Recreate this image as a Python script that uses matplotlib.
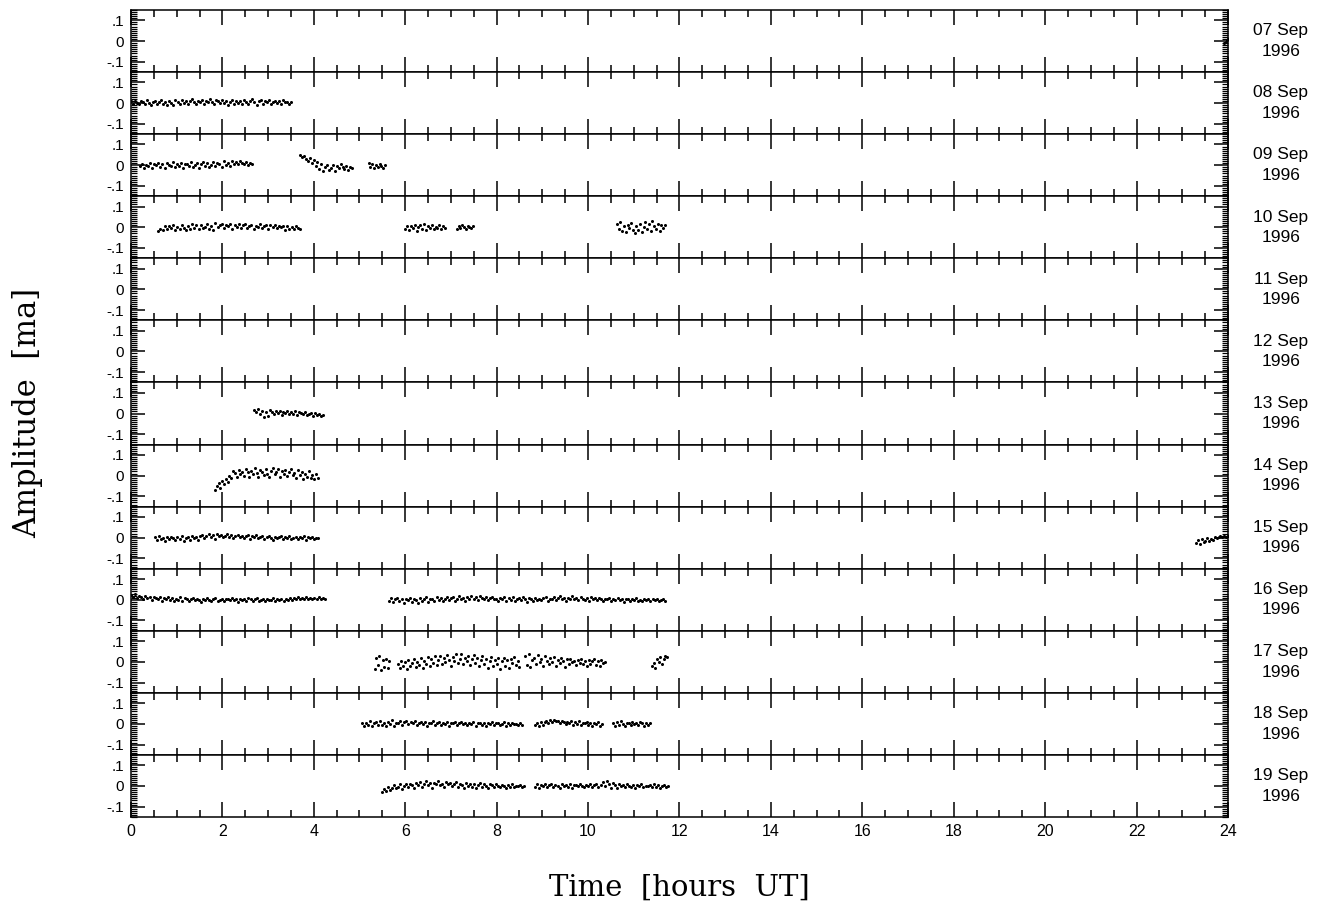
import numpy as np
import matplotlib
matplotlib.use('Agg')
import matplotlib.pyplot as plt
from matplotlib.ticker import MultipleLocator

# day labels, one panel per day
days = ['07 Sep', '08 Sep', '09 Sep', '10 Sep', '11 Sep', '12 Sep', '13 Sep',
        '14 Sep', '15 Sep', '16 Sep', '17 Sep', '18 Sep', '19 Sep']
year = '1996'

# observing segments per day: (start hour, end hour, amplitudes in 0.001 ma)
d07 = [(23.92, 24.0, [-10, -3, 5, 10])]
d08 = [(0.0, 3.5, [8, -4, 12, 2, -6, 10, 4, -2, 14, 0, -8, 6, 11, -5, 3, 15, -3, 7, -10, 9, 2, -7,
                   13, 5, -4, 16, 1, 9, -6, 12, 18, 4, -2, 10, 7, 15, -5, 11, 3, 20, 6, -3, 13, 8,
                   -1, 17, 2, 10, -8, 6, 14, -4, 9, 1, 12, -6, 15, 5, -2, 11, 18, 3, -9, 8, 13, -3,
                   10, 4, 16, -5, 7, 12, 0, 9, -4, 14, 3, 6, -2, 5])]
d09 = [(0.2, 2.65, [-5, 6, -12, 3, -2, 9, -15, 4, 0, 12, -8, 5, -14, 10, 2, -6, 14, -10, 7, -3, 11,
                    -16, 4, 8, -5, 15, -9, 3, 12, -12, 6, 16, -4, 9, -11, 2, 14, -6, 10, 5, -8, 18,
                    3, 12, -2, 20, 8, 15, 4, 22, 10, 6, 14, 2, 9, 5]),
       (3.7, 4.84, [48, 38, 42, 30, 22, 35, 12, 25, -5, 15, -20, 6, -28, -8, 3, -22, -12, 0, -30,
                    -6, -15, 4, -10, -18, -2, -25, -8, -14]),
       (5.2, 5.56, [12, -8, 6, -15, 3, -10, 8, -4, -12, 2])]
d10 = [(0.6, 3.7, [-18, -6, -12, 4, -10, 8, -4, 12, -15, 2, -8, 10, -3, -14, 6, -10, 14, -2, 9, -8,
                   12, -5, 3, 16, -6, 8, -12, 20, 2, 10, 15, -4, 11, 5, 18, -8, 12, 0, 14, -5, 9, 16,
                   -2, 6, 12, -10, 8, 3, 15, -4, 5, 11, -7, 9, 2, 13, -5, 6, -1, 4, -12, 8, -6, 2,
                   -9, 5, -3, -8]),
       (6.0, 6.87, [-10, 4, -15, 8, -5, 12, -18, 2, 10, -6, 14, -12, 5, -2, 11, -8, 3, -4, 9, -10,
                    6, -3]),
       (7.13, 7.48, [-6, 8, -3, 12, 0, -8, 6, 3, -5, 4]),
       (10.63, 11.68, [15, -8, 25, -18, 6, -25, 12, -4, 20, -15, -28, 8, -12, 18, -22, 3, 24, -10,
                       14, -18, 28, 5, -6, 16, -20, 10, -2, 12])]
d11 = []
d12 = []
d13 = [(2.69, 4.2, [18, 8, 22, -4, 14, -15, 5, -10, 16, 6, -3, 12, 2, 10, -6, 8, 3, 13, -2, 7, 0,
                    10, -6, 5, 2, -4, 8, -9, -1, 4, -12, 2, -6, -3, -10, -5])]
d14 = [(1.84, 4.09, [-70, -52, -38, -60, -28, -42, -15, -30, 0, -10, 22, 12, -6, 28, 10, 18, -2, 32,
                     15, -5, 24, 8, 35, 12, -8, 26, 18, 2, 30, 10, -5, 20, 36, 6, 15, 32, -8, 22,
                     10, 28, -4, 18, 34, 5, 12, -12, 25, 3, 16, -15, 8, -6, 20, -10, 2, -18, 6, -14])]
d15 = [(0.52, 4.1, [4, -10, 7, -5, 0, -14, 5, -8, 2, -3, -12, 3, -6, 8, -15, 0, 5, -9, 10, -4, 2,
                    -10, 7, 13, -2, 8, 16, 3, 11, -5, 18, 6, 14, 2, 10, 17, 4, 12, -3, 8, 15, 3, 10,
                    0, 7, 13, -5, 9, 2, 12, -2, 5, 10, -7, 3, 8, 0, -10, 5, -4, 2, 10, -8, 4, -2, 7,
                    -6, 0, 3, -7, 2, -4, 6, -9, 1, -3, 5, -6, 0, -2]),
       (23.3, 24.0, [-25, -12, -30, -8, -20, -15, 0, -18, -6, -10, 5, -4, 3, 8, 2, 6, 4, 7])]
d16 = [(0.0, 4.24, [25, 15, 30, 10, 20, 14, 5, 18, 8, 12, -3, 15, 7, 2, 11, -6, 9, 4, 13, -1, 10,
                    -5, 6, 1, 12, -4, 8, 3, -8, 5, 9, -2, 6, 0, -10, 4, -3, 8, 1, -6, 3, 9, -5, 0,
                    6, -8, 2, 5, -3, 7, -2, 3, -9, 6, 0, 4, -5, 9, 2, -7, 3, 8, -4, 0, 5, -8, 6, 1,
                    -2, 9, -5, 3, 0, 6, -6, 4, 1, 8, -3, 10, 2, 12, 5, 8, 4, 14, 6, 10, 3, 9, 5, 11,
                    2, 7, 4]),
       (5.65, 11.68, [-5, 8, -12, 3, 9, -8, 2, -15, 6, -3, 10, -9, 4, 0, -18, 7, -6, 3, 12, -10, 2,
                      6, -4, 13, -2, 9, -8, 3, 15, -3, 8, 12, -6, 5, 18, 2, 10, -4, 14, 6, 20, 3,
                      12, -2, 16, 8, 4, 15, -3, 9, 14, 2, 6, -8, 10, 3, 12, -5, 8, 0, 15, -6, 5, 9,
                      -2, 12, 3, -9, 8, 2, -5, 10, 0, 6, -3, 9, 14, -6, 5, 2, 12, -2, 8, 16, 3, 10,
                      -5, 9, 6, 18, 2, 8, -3, 12, 5, 0, 9, -6, 14, 3, 8, -2, 10, 4, -5, 6, 2, 9, -8,
                      3, 0, 8, -3, 5, -9, 2, 6, -5, 3, -2, 7, -4, 1, -6, 4, -1, 5, -7, 2, -3, 6, -8,
                      0, 3, -4])]
d17 = [(5.33, 5.65, [-35, 20, -15, 28, -40, 8, -25, 15, -30, 5]),
       (5.84, 8.5, [-12, -30, 6, -22, -3, -35, 9, -18, -8, 14, -26, 0, -15, 17, -32, 4, -9, 22, -20,
                    12, -4, 26, -14, 8, 30, -12, 18, -3, 32, 9, -18, 24, 3, 36, -8, 15, 40, -12, 20,
                    6, 30, -15, 12, 35, -6, 18, -22, 9, 26, -9, 15, -28, 3, 22, -18, 8, -12, 18,
                    -35, 5, 20, -20, 10, -30, 14, -8, 25, -15, 4, -25]),
       (8.62, 10.37, [30, -15, 36, -25, 8, 20, -9, 32, -3, 15, -20, 26, 6, -12, 18, 0, 24, -18, 9,
                      -6, 20, 3, -24, 12, -9, 16, -3, 6, -15, 9, -5, 13, -12, 3, -18, 8, -9, 2, 12,
                      -14, 5, -20, 10, -6, 0]),
       (11.4, 11.73, [-22, -8, -30, 12, 0, 22, -12, 15, 30, 25])]
d18 = [(5.05, 8.56, [3, -9, 6, -5, 12, -12, 2, 8, -6, 15, -3, 5, -10, 9, 0, 18, -8, 6, 3, 14, -5,
                     9, 16, -2, 8, 3, 12, -6, 5, 11, 0, 8, -9, 6, 2, 12, -5, 3, 9, -3, 6, 0, 11, -8,
                     5, 2, 8, -5, 3, 9, -2, 6, -6, 3, 0, 8, -9, 5, 2, -3, 6, -8, 3, 0, 9, -5, 2, 5,
                     -6, 0, 7, -10, 3, -4, 6, -2, 1, -7, 4, -3]),
       (8.84, 10.3, [-6, 5, -12, 8, -3, 9, 14, 3, 18, 8, 20, 12, 15, 5, 16, 9, -2, 11, 3, 14, -5, 8,
                     0, 12, -3, 6, 2, 9, -6, 3, -8, 5, -2, 7, -10, 1]),
       (10.55, 11.35, [5, -8, 9, -3, 12, 0, -9, 6, 3, -6, 10, -2, 5, -5, 8, 2, -10, 4, -3, 6])]
d19 = [(5.5, 8.6, [-30, -15, -22, -6, -18, -9, 3, -12, -3, 8, -15, 0, 9, -6, 12, 3, -9, 15, 5, 18,
                   -3, 10, 22, 6, 14, -8, 16, 9, 26, 3, 12, -5, 20, 8, 15, -2, 9, 18, -6, 12, 5, -9,
                   14, 2, 8, -5, 10, -12, 6, 15, -3, 9, 0, -8, 12, 3, -6, 9, 2, -3, 6, 0, -10, 5,
                   -4, 8, -7, 2, -2, 6, -5, 1]),
       (8.84, 11.75, [-3, 8, -9, 5, 0, 12, -6, 3, 9, -5, 6, 2, -8, 10, 0, 5, -3, 8, -9, 3, 6, -2, 9,
                      0, -6, 5, 2, 8, -5, 3, 12, -3, 6, 18, 0, 22, 9, -8, 15, 3, -12, 8, 0, 5, -6,
                      9, 2, -3, 6, -9, 3, 0, 8, -5, 2, -2, 5, -6, 9, -4, 3, -8, 1, 6, -3, 0])]

day_data = [d07, d08, d09, d10, d11, d12, d13, d14, d15, d16, d17, d18, d19]

fig, axes = plt.subplots(len(days), 1, sharex=True, figsize=(13.2, 9.07), dpi=100,
                         gridspec_kw={'hspace': 0})
fig.subplots_adjust(left=0.0992, right=0.9303, top=0.989, bottom=0.0992)

n = len(days)
for i, ax in enumerate(axes):
    for t0, t1, amp in day_data[i]:
        t = np.linspace(t0, t1, len(amp))
        ax.plot(t, np.array(amp) * 0.001, 'k.', markersize=4.4, markeredgewidth=0)

    ax.set_xlim(0, 24)
    ax.set_ylim(-0.15, 0.15)
    ax.xaxis.set_major_locator(MultipleLocator(2))
    ax.xaxis.set_minor_locator(MultipleLocator(0.5))
    ax.set_yticks([-0.1, 0, 0.1], ['-.1', '0', '.1'])
    ax.yaxis.set_minor_locator(MultipleLocator(0.01))
    for s in ax.spines.values():
        s.set_linewidth(1.1)

    ax.tick_params(axis='x', which='major', direction='in', length=11, width=1.1,
                   top=True, bottom=True, labelsize=11.5, pad=5)
    ax.tick_params(axis='x', which='minor', direction='in', length=5, width=1.1,
                   top=True, bottom=True)
    ax.tick_params(axis='y', which='major', direction='in', length=10, width=1.1,
                   left=True, right=True, labelsize=11, pad=5)
    ax.tick_params(axis='y', which='minor', direction='in', length=4.2, width=0.9,
                   left=True, right=True)
    if i < n - 1:
        ax.tick_params(axis='x', labelbottom=False)

    ax.text(1.048, 0.5, days[i] + '\n' + year, transform=ax.transAxes,
            ha='center', va='center', fontsize=12.5, linespacing=1.45,
            family='Liberation Sans')
    for lab in ax.get_yticklabels():
        lab.set_family('Liberation Sans')

for lab in axes[-1].get_xticklabels():
    lab.set_family('Liberation Sans')

fig.text(0.021, 0.545, 'Amplitude  [ma]', rotation=90, ha='center', va='center',
         fontsize=22, family='DejaVu Serif')
fig.text(0.515, 0.021, 'Time  [hours  UT]', ha='center', va='center',
         fontsize=21, family='DejaVu Serif')

plt.savefig('out.png', dpi=100)
